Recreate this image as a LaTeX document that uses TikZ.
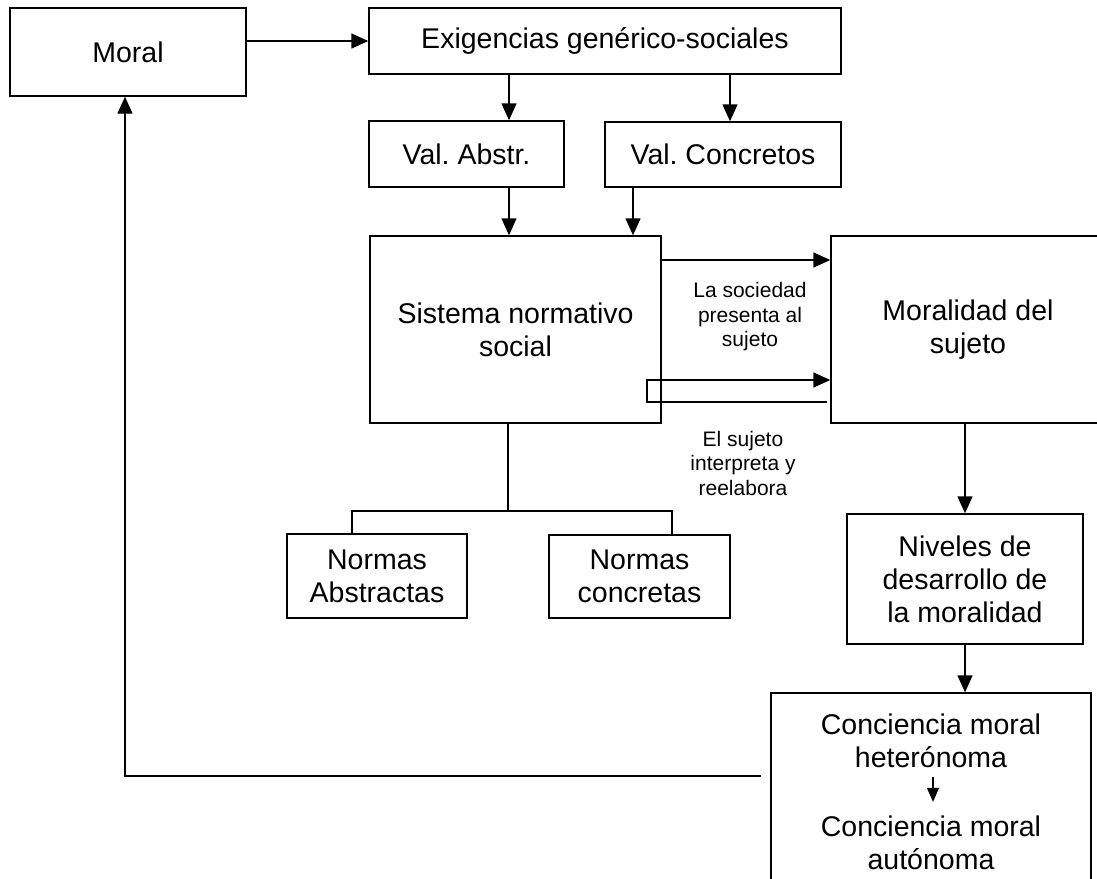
\documentclass[tikz,border=0pt]{standalone}
\usepackage{fontspec}
\setmainfont{Liberation Sans}
\usetikzlibrary{arrows.meta}
\frenchspacing

\begin{document}
\begin{tikzpicture}[x=1pt,y=-1pt,line width=1.4pt,
  texto/.style={align=center,inner sep=0pt,font=\fontsize{28.5}{33}\selectfont},
  caja/.style={texto,draw},
  nota/.style={align=center,inner sep=0pt,font=\fontsize{21}{24.5}\selectfont},
  flecha/.style={-{Triangle[length=17pt,width=15pt]}},
  flechita/.style={-{Triangle[length=14pt,width=12pt]}}]
  \path[use as bounding box] (0,0) rectangle (1097,878);
  \clip (0,0) rectangle (1097,878);
  \node[caja,minimum width=236pt,minimum height=88pt] (moral) at (128,52) {Moral};
  \node[caja,minimum width=472pt,minimum height=66pt] (exig) at (605,41) {Exigencias genérico-sociales};
  \node[caja,minimum width=195pt,minimum height=66pt] (valabs) at (466.5,154) {Val. Abstr.};
  \node[caja,minimum width=236pt,minimum height=65pt] (valcon) at (723,154.5) {Val. Concretos};
  \node[caja,minimum width=291pt,minimum height=187pt] (sistema) at (515.5,329.5) {Sistema normativo\\social};
  \node[caja,minimum width=274pt,minimum height=187pt] (moralidad) at (968,329.5) {Moralidad del\\sujeto};
  \node[caja,minimum width=180pt,minimum height=84pt] (normabs) at (377,576) {Normas\\Abstractas};
  \node[caja,minimum width=181pt,minimum height=83pt] (normcon) at (639.5,576.5) {Normas\\concretas};
  \node[caja,minimum width=236pt,minimum height=130pt] (niveles) at (965,579) {Niveles de\\desarrollo de\\la moralidad};
  \node[draw,minimum width=320pt,minimum height=198pt] (conciencia) at (931,792) {};
  \node[texto] (hetero) at (931,741) {Conciencia moral\\heterónoma};
  \node[texto] (auto) at (931,842.5) {Conciencia moral\\autónoma};
  \node[nota] (sociedad) at (750,317) {La sociedad\\presenta al\\sujeto};
  \node[nota] (sujeto) at (743,463) {El sujeto\\interpreta y\\reelabora};

  \coordinate (c1) at (509,0);
  \coordinate (c2) at (730,0);
  \coordinate (c3) at (633,0);
  \coordinate (t1) at (0,260);
  \coordinate (r1) at (0,380);
  \coordinate (r2) at (0,402);
  \coordinate (lx) at (647,0);
  \coordinate (rama) at (508,511);
  \coordinate (na) at (352,0);
  \coordinate (nc) at (672,0);
  \coordinate (fb) at (125,776);

  \draw[flecha] (moral.east |- exig.west) -- (exig.west);
  \draw[flecha] (exig.south -| c1) -- (valabs.north -| c1);
  \draw[flecha] (exig.south -| c2) -- (valcon.north -| c2);
  \draw[flecha] (valabs.south -| c1) -- (sistema.north -| c1);
  \draw[flecha] (valcon.south -| c3) -- (sistema.north -| c3);
  \draw[flecha] (sistema.east |- t1) -- (moralidad.west |- t1);
  \draw[flecha] ([xshift=-3pt]moralidad.west |- r2) -- (lx |- r2) -- (lx |- r1) -- (moralidad.west |- r1);
  \draw (sistema.south -| rama) -- (rama);
  \draw (normabs.north -| na) -- (na |- rama) -- (nc |- rama) -- (normcon.north -| nc);
  \draw[flecha] (moralidad.south -| niveles.north) -- (niveles.north);
  \draw[flecha] (niveles.south) -- (conciencia.north -| niveles.south);
  \draw[flechita,shorten <=8pt,shorten >=13pt] ([xshift=2pt]hetero.south) -- ([xshift=2pt]auto.north);
  \draw[flecha] ([xshift=-9pt]conciencia.west |- fb) -- (fb) -- (fb |- moral.south);
\end{tikzpicture}
\end{document}
